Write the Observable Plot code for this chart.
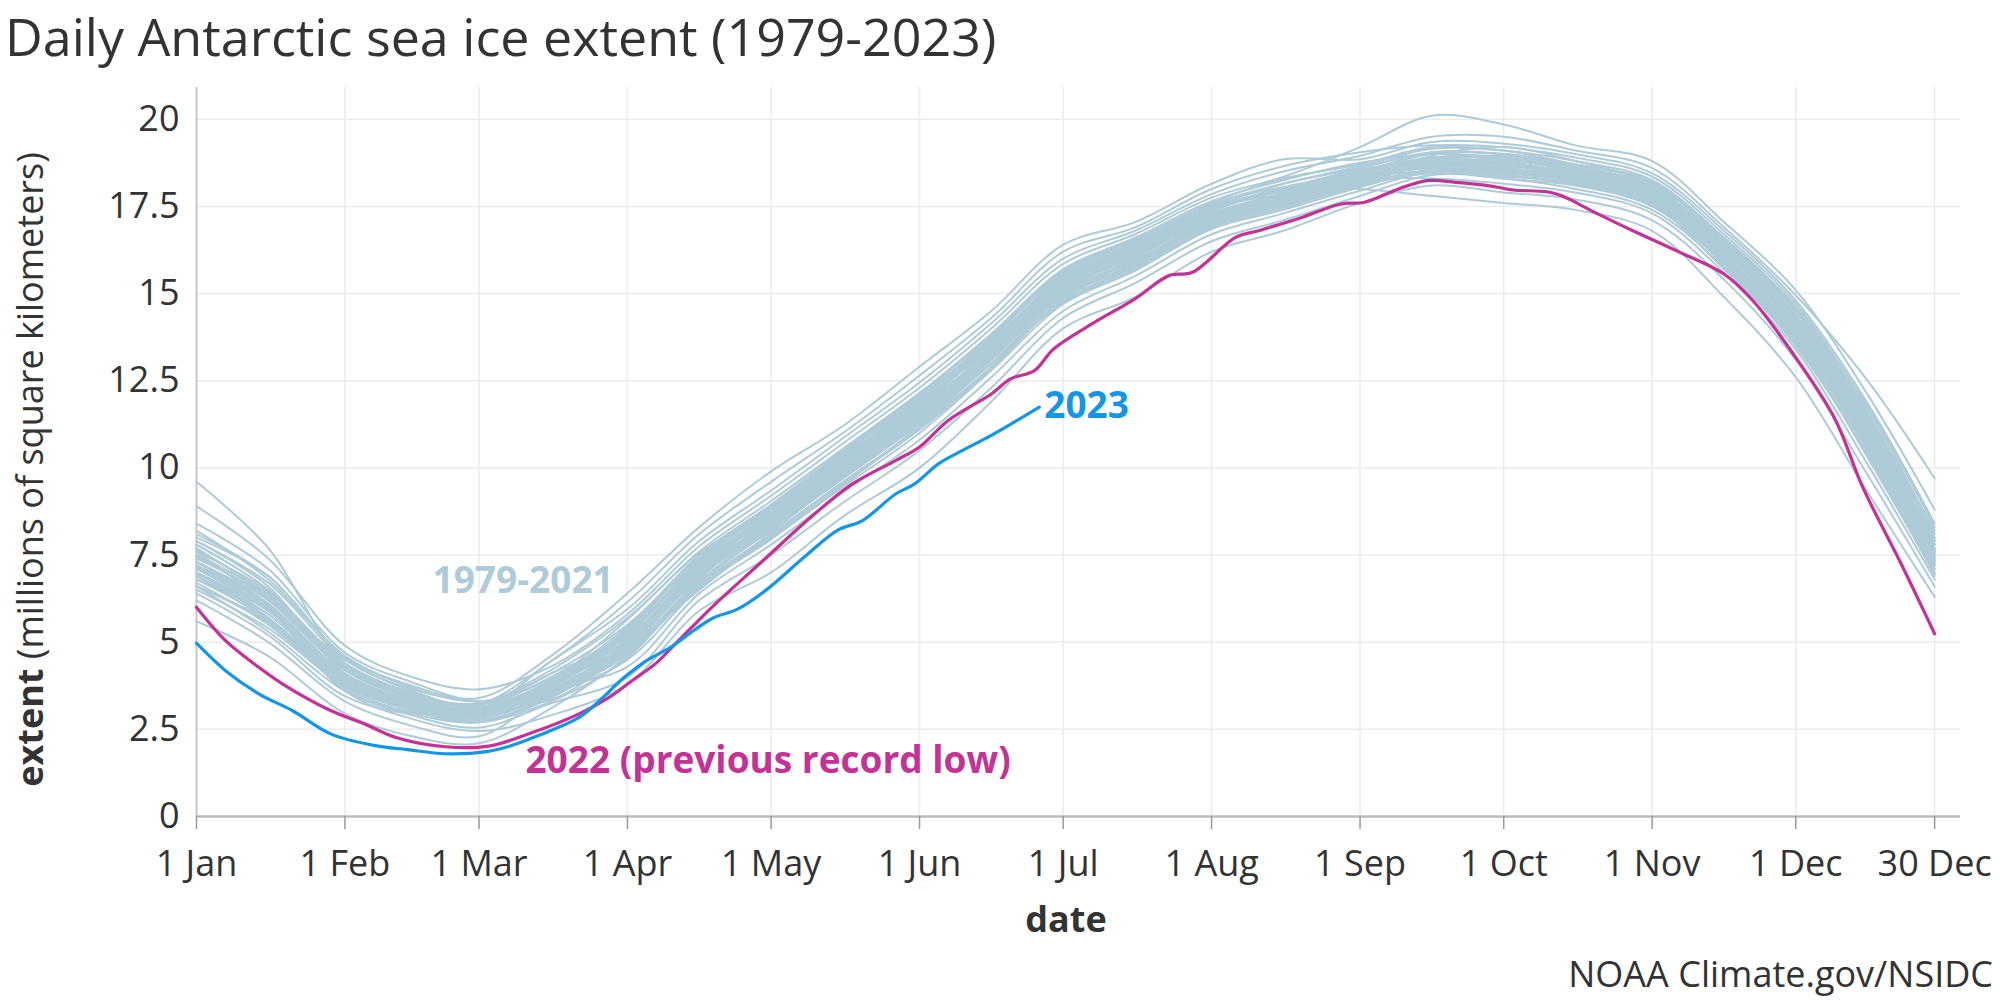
<!DOCTYPE html>
<html>
<head>
<meta charset="utf-8">
<script src="https://cdn.jsdelivr.net/npm/d3@7"></script>
<script src="https://cdn.jsdelivr.net/npm/@observablehq/plot@0.6"></script>
<style>
  body { margin: 0; background: #fff; }
  #wrap { position: relative; width: 2000px; height: 1000px; background: #fff; font-family: "Open Sans", sans-serif; color: #333; overflow: hidden; }
  #title { position: absolute; left: 5px; top: 8px; font-size: 52px; line-height: 56px; white-space: nowrap; }
  #chart { position: absolute; left: 0; top: 60px; }
  #caption { position: absolute; right: 7px; top: 956px; font-size: 36px; line-height: 36px; white-space: nowrap; }
</style>
</head>
<body>
<div id="wrap">
  <div id="title">Daily Antarctic sea ice extent (1979-2023)</div>
  <div id="chart"></div>
  <div id="caption">NOAA Climate.gov/NSIDC</div>
</div>
<script>
// ---- x axis ticks (day of year) ----
const tickDays = [0, 31, 59, 90, 120, 151, 181, 212, 243, 273, 304, 334, 363];
const tickLabels = ["1 Jan", "1 Feb", "1 Mar", "1 Apr", "1 May", "1 Jun", "1 Jul", "1 Aug", "1 Sep", "1 Oct", "1 Nov", "1 Dec", "30 Dec"];
const yTicks = [0, 2.5, 5, 7.5, 10, 12.5, 15, 17.5, 20];

// ---- 1979-2021 lines, sampled at these days (millions of km²) ----
const sampleDays = [0, 15, 31, 45, 59, 74, 90, 105, 120, 135, 151, 166, 181, 196, 212, 227, 243, 258, 273, 288, 304, 319, 334, 349, 363];
const historicLines = [
  [9.6, 7.7, 4.4, 3.55, 3.2, 4.1, 5.15, 7.15, 8.6, 10.1, 11.7, 13.4, 15.3, 16.2, 17.3, 17.85, 18.45, 19.05, 19.0, 18.7, 18.15, 16.5, 14.5, 11.45, 7.9],
  [8.9, 7.4, 4.9, 4.0, 3.65, 4.3, 5.8, 7.75, 9.2, 10.7, 12.3, 14.0, 15.85, 16.7, 17.75, 18.35, 19.2, 20.1, 19.85, 19.25, 18.8, 17.05, 15.1, 12.1, 8.8],
  [8.4, 7.1, 4.7, 3.85, 3.3, 3.55, 4.5, 6.55, 7.95, 9.45, 11.0, 12.8, 14.7, 15.65, 16.85, 17.4, 18.05, 18.55, 18.5, 18.2, 17.6, 15.95, 13.85, 10.65, 7.2],
  [8.1, 6.9, 4.6, 3.75, 3.4, 4.6, 6.4, 8.3, 9.9, 11.2, 12.9, 14.5, 16.4, 17.05, 18.15, 18.85, 18.85, 19.35, 19.3, 19.0, 18.45, 16.8, 14.8, 11.85, 8.4],
  [7.9, 6.7, 4.5, 3.65, 3.3, 3.35, 4.85, 6.85, 8.3, 9.8, 11.4, 13.1, 15.0, 15.95, 17.1, 17.65, 18.25, 18.3, 18.15, 17.9, 17.3, 15.6, 13.4, 10.1, 6.8],
  [7.8, 6.5, 4.4, 3.55, 3.2, 4.1, 5.5, 7.45, 8.9, 10.4, 12.0, 13.7, 15.6, 16.5, 17.55, 18.15, 18.65, 19.15, 19.1, 18.8, 18.25, 16.6, 14.6, 11.55, 8.0],
  [7.6, 6.0, 3.6, 2.8, 2.45, 2.9, 3.8, 5.9, 7.0, 8.6, 10.0, 11.9, 14.0, 14.9, 16.2, 16.8, 17.6, 18.1, 17.9, 17.7, 17.1, 15.4, 13.1, 9.8, 6.6],
  [7.5, 6.2, 4.2, 3.4, 3.05, 4.45, 5.95, 7.9, 9.35, 10.85, 12.45, 14.15, 16.0, 16.8, 17.85, 18.5, 18.95, 19.5, 19.5, 19.1, 18.6, 16.9, 14.95, 12.5, 9.7],
  [7.3, 6.1, 4.1, 3.3, 3.0, 3.8, 5.05, 7.05, 8.5, 10.0, 11.6, 13.3, 15.2, 16.1, 17.25, 17.8, 18.35, 18.85, 18.75, 18.45, 17.9, 16.25, 14.2, 11.1, 7.6],
  [7.2, 6.0, 4.0, 3.25, 2.9, 3.7, 5.4, 7.35, 8.8, 10.3, 11.9, 13.6, 15.5, 16.4, 17.5, 18.05, 18.0, 17.8, 17.6, 17.4, 16.8, 14.9, 12.6, 9.3, 6.3],
  [7.1, 5.9, 3.95, 3.2, 2.85, 3.65, 4.3, 6.4, 7.8, 9.3, 10.8, 12.6, 14.5, 15.5, 16.7, 17.3, 17.95, 18.5, 18.4, 18.1, 17.5, 15.85, 13.7, 10.5, 7.1],
  [7.0, 5.7, 3.9, 3.1, 3.2, 4.45, 6.15, 8.1, 9.6, 11.0, 12.65, 14.3, 16.2, 16.9, 18.0, 18.65, 19.05, 19.25, 19.2, 18.9, 18.35, 16.7, 14.7, 11.7, 8.1],
  [6.9, 5.6, 3.8, 3.05, 2.7, 3.45, 4.75, 6.75, 8.2, 9.7, 11.3, 13.0, 14.9, 15.85, 17.05, 17.6, 18.2, 18.75, 18.7, 18.4, 17.8, 16.2, 14.1, 11.0, 7.5],
  [6.7, 5.5, 3.7, 3.0, 3.0, 3.9, 5.65, 7.6, 9.05, 10.55, 12.15, 13.85, 15.7, 16.6, 17.65, 18.25, 18.75, 19.0, 18.9, 18.6, 18.05, 16.45, 14.4, 11.3, 7.8],
  [6.6, 5.3, 3.6, 2.9, 2.55, 3.25, 4.0, 6.2, 7.5, 9.0, 10.5, 12.3, 14.3, 15.3, 16.5, 17.1, 17.8, 18.4, 18.3, 18.0, 17.4, 15.75, 13.6, 10.3, 6.95],
  [6.4, 5.2, 3.45, 2.95, 3.1, 4.0, 5.3, 7.25, 8.7, 10.2, 11.8, 13.5, 15.4, 16.3, 17.4, 17.95, 18.5, 18.9, 18.85, 18.5, 17.95, 16.35, 14.3, 11.2, 7.7],
  [6.2, 5.0, 3.3, 2.6, 2.3, 3.6, 4.95, 6.95, 8.4, 9.9, 11.5, 13.2, 15.1, 16.05, 17.2, 17.7, 18.3, 18.6, 18.55, 18.25, 17.7, 16.05, 13.95, 10.8, 7.3],
  [5.6, 4.6, 2.95, 2.3, 2.1, 3.1, 4.6, 6.65, 8.1, 9.6, 11.15, 12.9, 14.8, 15.75, 16.95, 17.5, 18.15, 18.7, 18.6, 18.3, 17.75, 16.1, 14.05, 10.9, 7.4],
  [7.4, 6.3, 4.3, 3.4, 2.95, 3.6, 4.7, 6.8, 8.6, 10.3, 11.8, 13.2, 14.9, 16.0, 17.4, 18.0, 18.4, 18.6, 18.45, 18.3, 17.9, 16.4, 14.3, 11.3, 7.6],
  [6.8, 5.8, 3.85, 3.15, 2.8, 3.9, 5.3, 7.2, 8.3, 9.7, 11.3, 13.5, 15.4, 16.2, 17.1, 17.6, 18.4, 18.9, 18.9, 18.5, 17.7, 15.9, 13.8, 10.7, 7.2],
  [7.9, 6.6, 4.1, 3.2, 2.75, 3.4, 4.9, 7.0, 8.7, 10.4, 11.9, 13.4, 15.1, 15.9, 17.0, 17.7, 18.2, 18.95, 19.2, 18.8, 18.1, 16.3, 14.0, 11.0, 7.5],
  [7.0, 5.9, 4.0, 3.35, 3.05, 3.75, 5.2, 7.3, 8.45, 9.9, 11.5, 13.0, 14.8, 15.8, 17.2, 17.75, 18.3, 18.5, 18.3, 18.1, 17.6, 16.0, 13.9, 10.9, 7.2],
  [7.3, 6.2, 4.5, 3.6, 3.1, 3.55, 4.8, 6.7, 8.25, 9.9, 11.7, 13.6, 15.4, 16.35, 17.3, 17.9, 18.6, 19.0, 18.8, 18.35, 17.8, 16.1, 13.9, 10.6, 7.0],
  [6.5, 5.4, 3.75, 3.1, 2.85, 3.7, 5.1, 7.1, 8.6, 10.0, 11.4, 13.1, 15.2, 16.3, 17.45, 17.85, 18.2, 18.7, 18.75, 18.45, 17.95, 16.5, 14.35, 11.4, 7.8],
  [7.7, 6.3, 4.2, 3.4, 3.0, 3.8, 4.95, 6.9, 8.4, 10.2, 11.95, 13.75, 15.55, 16.45, 17.5, 17.95, 18.35, 18.65, 18.6, 18.3, 17.7, 15.8, 13.5, 10.4, 7.0],
  [7.2, 6.1, 3.9, 3.2, 2.9, 3.5, 4.7, 6.6, 8.0, 9.5, 11.2, 12.9, 15.0, 16.0, 17.2, 17.55, 18.1, 18.8, 18.95, 18.6, 18.0, 16.4, 14.5, 11.6, 7.9],
  [6.9, 5.7, 3.65, 2.95, 2.7, 3.3, 4.55, 6.85, 8.55, 10.15, 11.75, 13.35, 15.25, 16.15, 17.35, 18.0, 18.55, 18.8, 18.65, 18.5, 18.0, 16.15, 13.8, 10.7, 7.3],
  [8.2, 6.8, 4.6, 3.7, 3.3, 3.95, 5.45, 7.5, 8.95, 10.5, 12.1, 13.8, 15.65, 16.55, 17.6, 18.3, 18.7, 19.2, 19.1, 18.7, 18.2, 16.55, 14.55, 11.5, 7.95],
  [6.6, 5.6, 3.8, 3.15, 2.95, 3.6, 4.9, 6.5, 8.15, 9.75, 11.35, 13.0, 14.75, 15.7, 16.9, 17.45, 18.1, 18.45, 18.35, 18.2, 17.65, 15.95, 13.75, 10.75, 7.35],
  [7.5, 6.35, 4.25, 3.5, 3.25, 4.2, 5.7, 7.55, 8.8, 10.2, 11.65, 13.25, 15.05, 15.95, 17.05, 17.7, 18.4, 18.9, 18.85, 18.55, 18.0, 16.3, 14.15, 11.05, 7.55],
  [7.1, 5.95, 4.05, 3.3, 3.0, 3.65, 5.0, 7.0, 8.45, 10.05, 11.75, 13.55, 15.45, 16.3, 17.25, 17.7, 18.3, 18.65, 18.5, 18.2, 17.55, 15.7, 13.55, 10.4, 6.9],
  [8.0, 6.9, 4.55, 3.6, 3.15, 3.85, 5.25, 7.2, 8.65, 10.1, 11.55, 13.15, 14.95, 15.85, 17.0, 17.65, 18.25, 18.75, 18.75, 18.45, 17.9, 16.25, 14.25, 11.2, 7.7],
  [6.8, 5.65, 3.85, 3.05, 2.75, 3.45, 4.65, 6.6, 8.05, 9.55, 11.1, 12.85, 14.85, 15.9, 17.15, 17.85, 18.45, 18.9, 18.7, 18.35, 17.75, 16.0, 13.95, 10.95, 7.45],
  [7.6, 6.45, 4.35, 3.45, 3.05, 3.75, 5.1, 7.15, 8.7, 10.35, 12.0, 13.6, 15.35, 16.2, 17.3, 17.8, 18.35, 18.6, 18.45, 18.25, 17.85, 16.35, 14.4, 11.5, 8.2],
  [7.0, 5.8, 3.95, 3.25, 2.95, 3.7, 5.2, 7.2, 8.55, 9.95, 11.45, 13.15, 15.0, 15.95, 17.0, 17.55, 18.15, 18.55, 18.55, 18.3, 17.65, 15.85, 13.65, 10.55, 7.1],
  [7.3, 6.05, 4.1, 3.35, 3.1, 3.85, 5.3, 7.25, 8.75, 10.25, 11.85, 13.45, 15.3, 16.25, 17.4, 18.05, 18.5, 19.0, 19.0, 18.65, 18.1, 16.6, 14.6, 11.75, 8.3],
  [7.8, 6.5, 4.3, 3.5, 3.1, 3.65, 4.9, 6.9, 8.35, 9.85, 11.45, 13.25, 15.15, 16.05, 17.15, 17.75, 18.3, 18.8, 18.8, 18.4, 17.85, 16.2, 14.0, 10.85, 7.4],
  [6.6, 5.55, 3.75, 3.05, 2.8, 3.55, 4.85, 6.95, 8.5, 10.05, 11.65, 13.4, 15.3, 16.15, 17.25, 17.8, 18.35, 18.7, 18.55, 18.25, 17.6, 15.9, 13.7, 10.6, 7.2],
  [7.45, 6.25, 4.2, 3.4, 3.05, 3.8, 5.25, 7.3, 8.85, 10.3, 11.9, 13.55, 15.4, 16.4, 17.55, 18.15, 18.6, 19.05, 19.0, 18.7, 18.2, 16.45, 14.25, 11.15, 7.65],
  [6.95, 5.9, 4.0, 3.2, 2.85, 3.5, 4.8, 6.75, 8.3, 9.75, 11.25, 13.0, 14.9, 15.8, 16.95, 17.55, 18.15, 18.45, 18.4, 18.15, 17.55, 15.95, 13.85, 10.8, 7.25],
  [7.65, 6.4, 4.25, 3.45, 3.15, 3.9, 5.35, 7.4, 8.85, 10.45, 12.05, 13.65, 15.45, 16.35, 17.45, 17.95, 18.5, 18.85, 18.75, 18.45, 17.95, 16.3, 14.15, 11.1, 7.6],
  [7.15, 6.0, 4.0, 3.25, 2.95, 3.6, 5.0, 6.95, 8.4, 9.95, 11.55, 13.25, 15.2, 16.05, 17.15, 17.7, 18.25, 18.65, 18.6, 18.35, 17.8, 16.1, 13.9, 10.85, 7.35]
];

// ---- 2022 (previous record low) ----
const days2022 = [0, 6, 13, 18, 28, 35, 42, 52, 61, 70, 80, 86, 91, 96, 100, 108, 118, 128, 137, 146, 151, 157, 166, 170, 175, 179, 187, 196, 203, 208, 217, 222, 231, 239, 244, 251, 257, 263, 270, 275, 282, 285, 292, 300, 309, 319, 325, 333, 342, 348, 356, 363];
const values2022 = [6.0, 5.05, 4.28, 3.8, 3.04, 2.66, 2.25, 2.0, 2.02, 2.4, 2.95, 3.4, 3.9, 4.4, 4.95, 6.05, 7.3, 8.55, 9.54, 10.21, 10.6, 11.36, 12.12, 12.55, 12.79, 13.41, 14.13, 14.85, 15.51, 15.61, 16.61, 16.81, 17.19, 17.57, 17.62, 18.0, 18.24, 18.19, 18.09, 17.97, 17.92, 17.81, 17.33, 16.8, 16.23, 15.56, 14.8, 13.36, 11.45, 9.44, 7.25, 5.24];

// ---- 2023 (through late June) ----
const days2023 = [0, 6, 13, 20, 28, 37, 44, 52, 61, 65, 71, 80, 84, 89, 94, 99, 104, 108, 113, 119, 127, 134, 139, 146, 150, 155, 160, 166, 172, 176];
const values2023 = [4.97, 4.19, 3.52, 3.04, 2.37, 2.04, 1.92, 1.8, 1.87, 2.0, 2.3, 2.85, 3.3, 3.95, 4.47, 4.85, 5.35, 5.7, 5.95, 6.5, 7.45, 8.22, 8.48, 9.25, 9.54, 10.12, 10.5, 10.93, 11.41, 11.74];

// ---- annotation labels (anchored in data units) ----
const labelTexts = ["1979-2021", "2022 (previous record low)"];
const labelDays = [49.3, 68.7];
const labelValues = [6.76, 1.6];

const colorHistoric = "#aecbd7";
const color2022 = "#c43296";
const color2023 = "#1496e6";

// build tables from the arrays
const historicRows = historicLines.flatMap((vals, i) => vals.map((v, j) => ({line: i, day: sampleDays[j], value: v})));
const rows2022 = days2022.map((d, i) => ({day: d, value: values2022[i]}));
const rows2023 = days2023.map((d, i) => ({day: d, value: values2023[i]}));
const labelRows = labelTexts.map((t, i) => ({text: t, day: labelDays[i], value: labelValues[i]}));
const end2023 = rows2023[rows2023.length - 1];

const chart = Plot.plot({
  width: 2000,
  height: 885,
  marginTop: 27,
  marginBottom: 129,
  marginLeft: 196,
  marginRight: 40,
  style: {fontFamily: "Open Sans, sans-serif", fontSize: "36px", color: "#333", background: "transparent", overflow: "visible"},
  x: {type: "linear", domain: [0, 368.4]},
  y: {domain: [0, 20.91]},
  marks: [
    Plot.gridX({ticks: tickDays, stroke: "#ececec", strokeOpacity: 1, strokeWidth: 1.5}),
    Plot.gridY({ticks: yTicks, stroke: "#ececec", strokeOpacity: 1, strokeWidth: 1.5}),
    Plot.ruleX([0], {stroke: "#c8c8c8", strokeWidth: 2}),
    Plot.ruleY([0], {stroke: "#bcbcbc", strokeWidth: 2.5}),
    Plot.axisX({ticks: tickDays, tickFormat: d => tickLabels[tickDays.indexOf(d)], tickSize: 13, tickPadding: 21, stroke: "#999", strokeWidth: 1.5, label: null, fill: "#333"}),
    Plot.axisY({ticks: yTicks, tickFormat: d => String(d), tickSize: 0, tickPadding: 17, label: null, fill: "#333"}),
    Plot.line(historicRows, {x: "day", y: "value", z: "line", stroke: colorHistoric, strokeWidth: 2, curve: "catmull-rom"}),
    Plot.line(rows2022, {x: "day", y: "value", stroke: color2022, strokeWidth: 3.2, curve: "catmull-rom"}),
    Plot.line(rows2023, {x: "day", y: "value", stroke: color2023, strokeWidth: 3.2, curve: "catmull-rom"}),
    Plot.text(labelRows, {x: "day", y: "value", text: "text", textAnchor: "start", fontWeight: "bold", fontSize: 37, fill: (d) => d.text === "1979-2021" ? colorHistoric : color2022}),
    Plot.text([end2023], {x: "day", y: "value", text: () => "2023", textAnchor: "start", dx: 5, dy: -1, fontWeight: "bold", fontSize: 37, fill: color2023})
  ]
});

// axis titles (mixed weight y label)
const svg = d3.select(chart);
const ylab = svg.append("text")
  .attr("transform", "translate(43,409.5) rotate(-90)")
  .attr("text-anchor", "middle")
  .attr("fill", "#333")
  .style("font-size", "36px");
ylab.append("tspan").attr("font-weight", "bold").text("extent");
ylab.append("tspan").text(" (millions of square kilometers)");
svg.append("text")
  .attr("x", 1066).attr("y", 871.7)
  .attr("text-anchor", "middle")
  .attr("font-weight", "bold")
  .attr("fill", "#333")
  .style("font-size", "36px")
  .text("date");

document.getElementById("chart").appendChild(chart);
</script>
</body>
</html>
